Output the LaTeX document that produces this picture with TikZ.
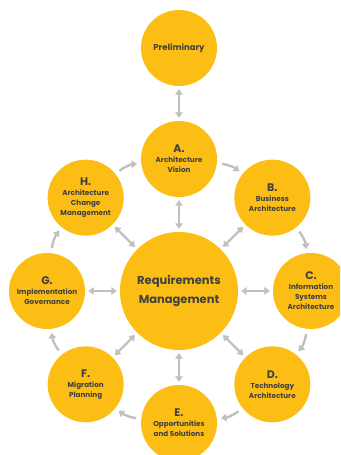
\documentclass[tikz,border=0pt]{standalone}
\usepackage{fontspec}
\setmainfont{Poppins}
\usetikzlibrary{arrows.meta,calc}

\definecolor{phasefill}{RGB}{252,190,20}
\definecolor{ink}{RGB}{64,64,64}
\definecolor{linkgray}{RGB}{192,192,192}

\newcommand\phaseletter[1]{{\fontsize{11}{12.5}\selectfont #1}}

\tikzset{
  phase/.style={circle, fill=phasefill, minimum size=76pt, inner sep=0pt,
    align=center, text=ink, font=\fontsize{7.2}{10}\selectfont\bfseries},
  hub/.style={phase, minimum size=118pt,
    font=\fontsize{11.5}{19}\selectfont\bfseries},
  tip/.tip={Triangle[length=5.5pt,width=7.5pt]},
  twoway/.style={draw=linkgray, line width=2.4pt, tip-tip,
    shorten <=3pt, shorten >=3pt},
  flow/.style={draw=linkgray, line width=2.4pt, -tip, bend left=16,
    shorten <=5pt, shorten >=4pt}
}

\begin{document}
\begin{tikzpicture}[x=1pt,y=1pt]
  \useasboundingbox (0,0) rectangle (340,455);
  \clip (0,0) rectangle (340,455);

  % central hub and the ring of ADM phases around it
  \coordinate (mid) at (179,164);
  \node[hub] (req) at (mid) {Requirements\\Management};
  \node[phase] (pre) at (179,407) {\fontsize{8.5}{10}\selectfont Preliminary};
  \node[phase] (a) at ($(mid)+(90:132)$)  {\phaseletter{A.}\\Architecture\\Vision};
  \node[phase] (b) at ($(mid)+(45:132)$)  {\phaseletter{B.}\\Business\\Architecture};
  \node[phase] (c) at ($(mid)+(0:132)$)   {\phaseletter{C.}\\Information\\Systems\\Architecture};
  \node[phase] (d) at ($(mid)+(-45:132)$) {\phaseletter{D.}\\Technology\\Architecture};
  \node[phase] (e) at ($(mid)+(-90:132)$) {\phaseletter{E.}\\Opportunities\\and Solutions};
  \node[phase] (f) at ($(mid)+(-135:132)$){\phaseletter{F.}\\Migration\\Planning};
  \node[phase] (g) at ($(mid)+(180:132)$) {\phaseletter{G.}\\Implementation\\Governance};
  \node[phase] (h) at ($(mid)+(135:132)$) {\phaseletter{H.}\\Architecture\\Change\\Management};

  % two-way links
  \draw[twoway] (pre) -- (a);
  \foreach \p in {a,b,c,d,e,f,g,h}
    \draw[twoway] (req) -- (\p);

  % clockwise cycle
  \draw[flow] (a) to (b);
  \draw[flow] (b) to (c);
  \draw[flow] (c) to (d);
  \draw[flow] (d) to (e);
  \draw[flow] (e) to (f);
  \draw[flow] (f) to (g);
  \draw[flow] (g) to (h);
  \draw[flow] (h) to (a);
\end{tikzpicture}
\end{document}
